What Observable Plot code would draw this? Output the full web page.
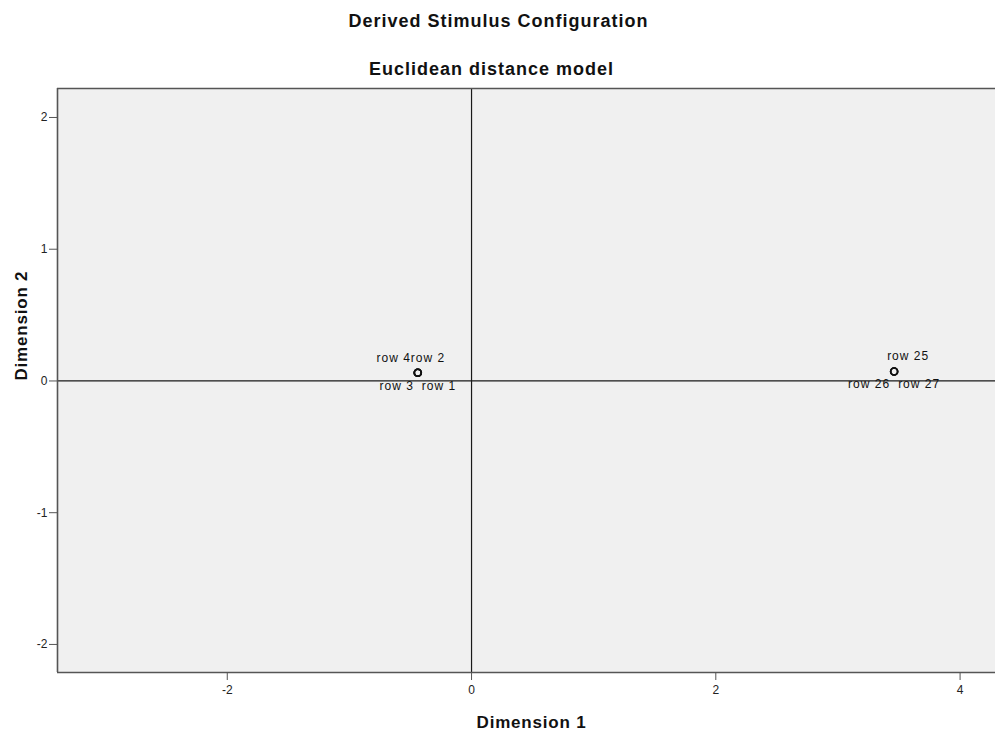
<!DOCTYPE html>
<html>
<head>
<meta charset="utf-8">
<script src="https://cdn.jsdelivr.net/npm/d3@7"></script>
<script src="https://cdn.jsdelivr.net/npm/@observablehq/plot@0.6"></script>
<style>
  html, body { margin: 0; padding: 0; background: #ffffff; }
  body { width: 995px; height: 733px; overflow: hidden; font-family: "Liberation Sans", Arial, sans-serif; }
  #head { position: relative; width: 995px; height: 80px; }
  .t { position: absolute; left: 0; width: 995px; text-align: center; font-weight: bold; font-size: 18px; line-height: 18px; color: #111; letter-spacing: 1px; white-space: nowrap; }
  #title { top: 12px; transform: translateX(1px); }
  #subtitle { top: 60px; transform: translateX(-6px); }
  #chart { width: 995px; overflow: hidden; }
  #chart svg { display: block; max-width: none !important; }
</style>
</head>
<body>
<div id="head">
  <div class="t" id="title">Derived Stimulus Configuration</div>
  <div class="t" id="subtitle">Euclidean distance model</div>
</div>
<div id="chart"></div>
<script>
// ---- data ----
const rows = ["row 1", "row 2", "row 3", "row 4", "row 25", "row 26", "row 27"];
const dim1 = [-0.44, -0.44, -0.44, -0.44, 3.46, 3.46, 3.46];
const dim2 = [0.062, 0.062, 0.062, 0.062, 0.072, 0.072, 0.072];
const labelPlacement = ["se", "ne", "sw", "nw", "ne", "sw", "se"];
const xTicks = [-2, 0, 2, 4];
const yTicks = [-2, -1, 0, 1, 2];
const xDomain = [-3.39, 4.29];
const yDomain = [-2.213, 2.22];
const xTitle = "Dimension 1";
const yTitle = "Dimension 2";

const data = rows.map((name, i) => ({name, x: dim1[i], y: dim2[i], place: labelPlacement[i]}));

// label placement styles
const placeStyle = {
  nw: {textAnchor: "end", dx: -7, dy: -11},
  ne: {textAnchor: "start", dx: -7, dy: -11},
  sw: {textAnchor: "end", dx: -4, dy: 17},
  se: {textAnchor: "start", dx: 4, dy: 17}
};

const labelMarks = Object.entries(placeStyle).map(([key, s]) =>
  Plot.text(data.filter(d => d.place === key), {
    x: "x", y: "y", text: "name",
    textAnchor: s.textAnchor, dx: s.dx, dy: s.dy,
    lineAnchor: "bottom", fontSize: 12, fill: "#111"
  })
);

const fmt = d => String(d);

const chart = Plot.plot({
  width: 997,
  height: 653,
  marginTop: 8,
  marginBottom: 61,
  marginLeft: 57,
  marginRight: 2,
  x: {domain: xDomain, label: null},
  y: {domain: yDomain, label: null},
  style: {fontFamily: "'Liberation Sans', Arial, sans-serif", fontSize: "12px", color: "#222", background: "transparent", maxWidth: "none"},
  marks: [
    Plot.frame({fill: "#f0f0f0", stroke: "none", insetRight: -3}),
    Plot.ruleX([0], {stroke: "#1a1a1a", strokeWidth: 1.2}),
    Plot.ruleY([0], {stroke: "#1a1a1a", strokeWidth: 1.2, insetRight: -3}),
    Plot.ruleX([xDomain[0]], {stroke: "#555", strokeWidth: 1.6}),
    Plot.ruleY(yDomain, {stroke: "#555", strokeWidth: 1.6, insetRight: -3}),
    Plot.axisX(xTicks, {tickSize: 8, tickPadding: 5, stroke: "#555", fill: "#222", fontSize: 12, tickFormat: fmt, label: null}),
    Plot.axisY(yTicks, {tickSize: 8, tickPadding: 2, stroke: "#555", fill: "#222", fontSize: 12, tickFormat: fmt, label: null}),
    Plot.dot(data, {x: "x", y: "y", r: 3.5, stroke: "#111", strokeWidth: 1.6, fill: "none"}),
    ...labelMarks,
    Plot.text([xTitle], {text: d => d, frameAnchor: "bottom", dy: 55, dx: 5, lineAnchor: "bottom", fontWeight: "bold", fontSize: 17, fill: "#111"}),
    Plot.text([yTitle], {text: d => d, frameAnchor: "left", rotate: -90, dx: -31, lineAnchor: "bottom", fontWeight: "bold", fontSize: 17, fill: "#111"})
  ]
});

document.getElementById("chart").appendChild(chart);

// slight letter spacing to mimic the original renderer
d3.select(chart).selectAll("text")
  .filter(function () { return this.textContent === xTitle || this.textContent === yTitle; })
  .style("letter-spacing", "0.8px");
d3.select(chart).selectAll("text")
  .filter(function () { return rows.includes(this.textContent); })
  .style("letter-spacing", "1px");
</script>
</body>
</html>
